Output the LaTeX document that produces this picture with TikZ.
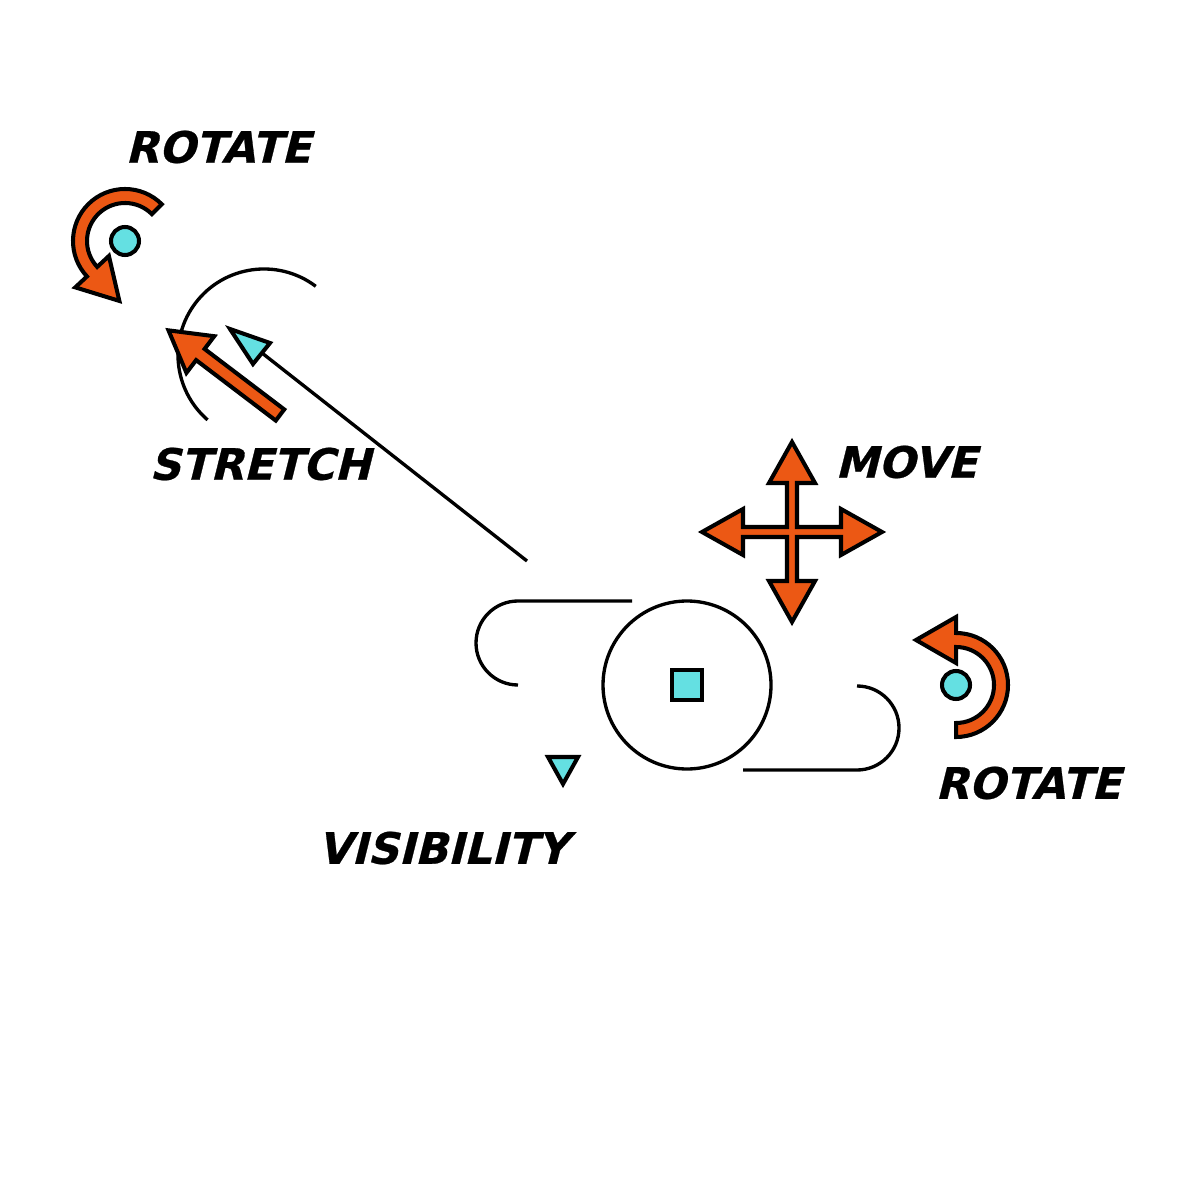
\documentclass[tikz,border=0pt]{standalone}
\usepackage{fontspec}
\newfontfamily\tagfont[FakeSlant=0.25,FakeBold=0.6]{DejaVu Sans Bold}
\usetikzlibrary{calc}

\definecolor{handleorange}{RGB}{236,88,20}
\definecolor{markcyan}{RGB}{100,224,226}

% curved handle round a pivot: #1 pivot, #2 tail angle, #3 head angle
\newcommand{\turnarrow}[3]{%
  \draw[handle] ($(#1)+(-#2:52)$) arc[start angle=-#2, end angle=-#3, radius=52]
    -- ($(#1)+(-#3:68)$) -- ($(#1)+(-#3:45)+(-#3-90:40)$)
    -- ($(#1)+(-#3:22)$) -- ($(#1)+(-#3:38)$)
    arc[start angle=-#3, end angle=-#2, radius=38] -- cycle;}

\begin{document}
\begin{tikzpicture}[
    x=0.01cm, y=-0.01cm,
    handle/.style={draw=black, fill=handleorange, line width=1.15pt},
    marker/.style={draw=black, fill=markcyan, line width=1.15pt},
    guide/.style={draw=black, line width=0.95pt},
    tag/.style={font=\tagfont\fontsize{12.3}{14}\selectfont, inner sep=0pt}
]
\useasboundingbox[fill=white] (0,0) rectangle (1201,1201);

% labels
\node[tag] (rotA) at (218,147) {ROTATE};
\node[tag] (stretch) at (260,464) {STRETCH};
\node[tag] (move) at (906,462) {MOVE};
\node[tag] (visib) at (443,848) {VISIBILITY};
\node[tag] (rotB) at (1028,783) {ROTATE};

% object with its handles
\node[marker, rectangle, minimum size=0.3cm, inner sep=0] (hub) at (687,685) {};
\draw[guide] (hub) circle[radius=84];
\draw[guide] (632,601) -- (518,601) arc[start angle=-90, end angle=-270, radius=42];
\draw[guide] (743,770) -- (857,770) arc[start angle=90, end angle=-90, radius=42];

% pivots
\node[marker, circle, minimum size=0.28cm, inner sep=0] (pivotA) at (125,241) {};
\node[marker, circle, minimum size=0.28cm, inner sep=0] (pivotB) at (956,685) {};
\turnarrow{pivotA}{45}{223}
\turnarrow{pivotB}{270}{450}

% move cross
\draw[handle, shift={(792,532)}] (-5,-5) -- (-5,-49) -- (-23,-49) -- (0,-90) -- (23,-49) -- (5,-49)
  -- (5,-5) -- (49,-5) -- (49,-23) -- (90,0) -- (49,23) -- (49,5)
  -- (5,5) -- (5,49) -- (23,49) -- (0,90) -- (-23,49) -- (-5,49)
  -- (-5,5) -- (-49,5) -- (-49,23) -- (-90,0) -- (-49,-23) -- (-49,-5) -- cycle;

% stretch handle
\coordinate (pull) at (264,355);
\draw[guide] ($(pull)+(-53:86)$) arc[start angle=-53, end angle=-229, radius=86];
\draw[handle, shift={(280,415)}, rotate=142.8] (0,-7) -- (100,-7) -- (100,-23) -- (140,0) -- (100,23) -- (100,7) -- (0,7) -- cycle;
\coordinate (stretchtail) at (527,561);
\coordinate (stretchhead) at (262,353);
\draw[guide] (stretchtail) -- (stretchhead);
\draw[marker] (230,329) -- (270,343) -- (253,364) -- cycle;

% visibility toggle
\draw[marker] (548,757) -- (578,757) -- (563,784) -- cycle;

\end{tikzpicture}
\end{document}
